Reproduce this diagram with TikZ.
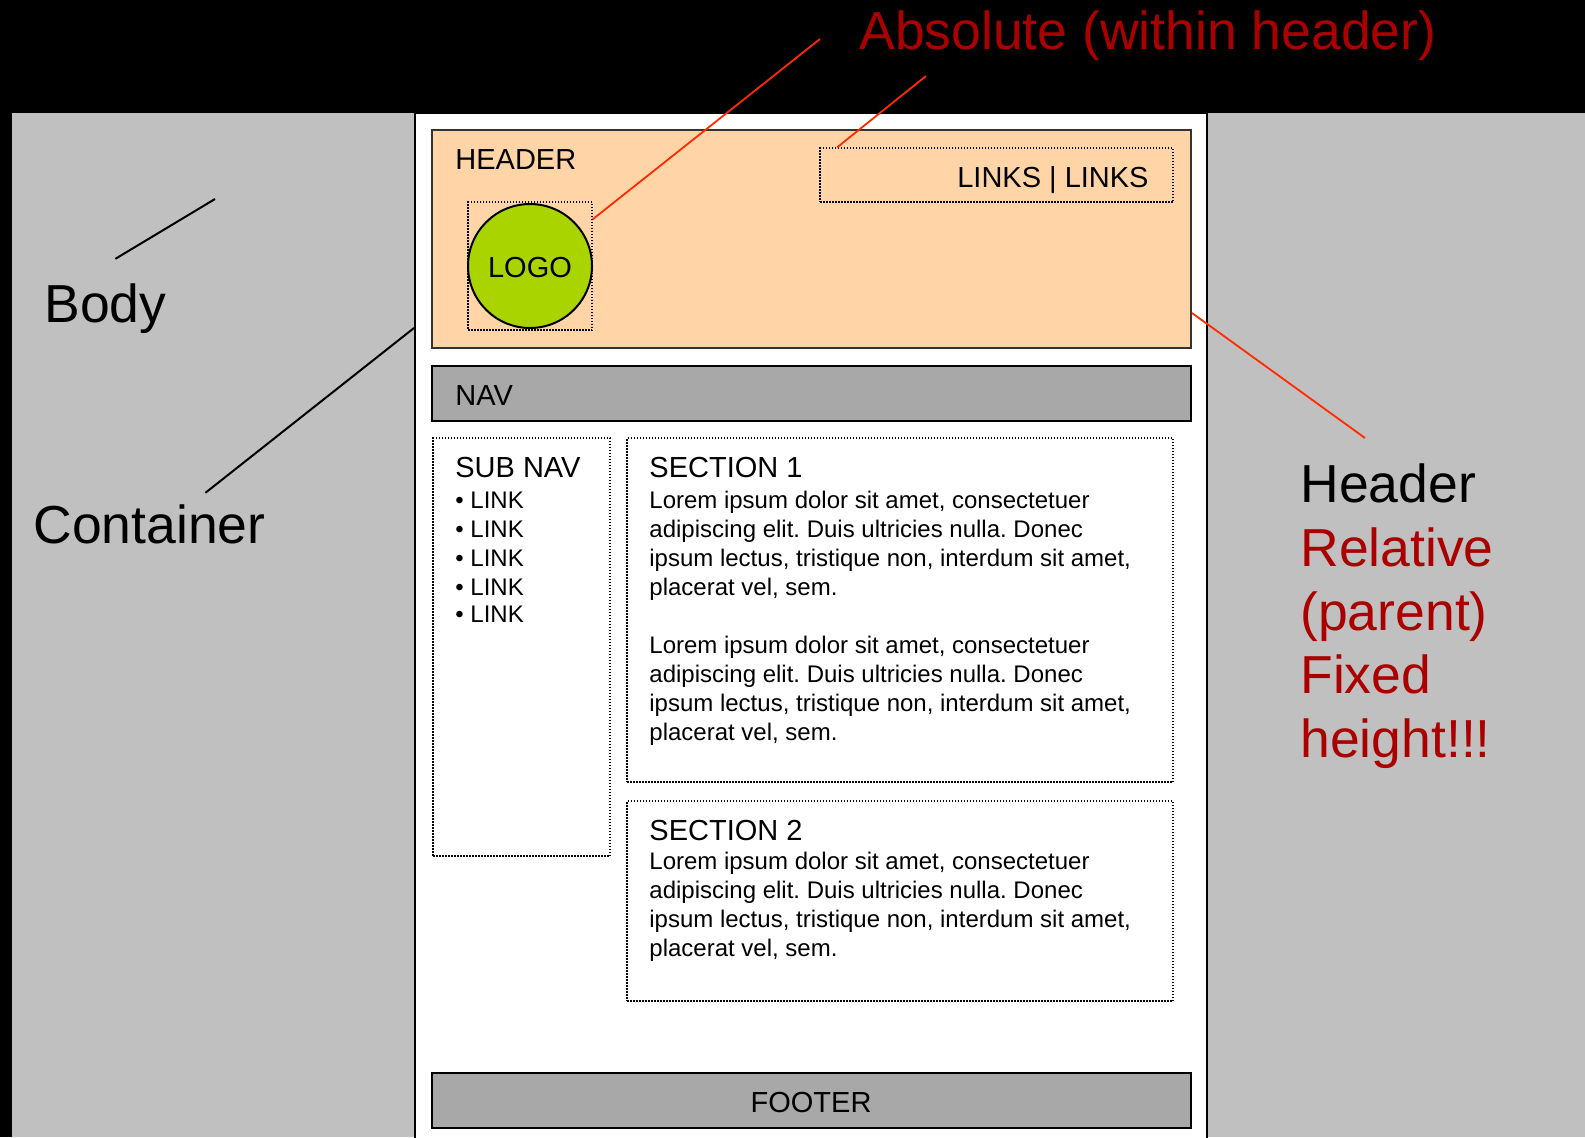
\documentclass[tikz,border=0pt]{standalone}
\usepackage{fontspec}
\setmainfont{Liberation Sans}
\usetikzlibrary{fit,calc}
\frenchspacing

\definecolor{bodygray}{RGB}{192,192,192}
\definecolor{navgray}{RGB}{168,168,168}
\definecolor{headerfill}{RGB}{255,213,167}
\definecolor{logogreen}{RGB}{170,212,0}
\definecolor{annotred}{RGB}{170,0,0}
\definecolor{linered}{RGB}{255,42,0}

\newcommand{\hdfont}{\fontsize{14.5pt}{17pt}\selectfont}
\newcommand{\smfont}{\fontsize{12pt}{14.5pt}\selectfont}
\newcommand{\lgfont}{\fontsize{26.75pt}{32pt}\selectfont}

\tikzset{
  area/.style={inner sep=0pt, line width=1pt},
  dotbox/.style={draw=black, line width=0.75pt, dash pattern=on 0.75pt off 0.75pt, inner sep=0pt},
  lbl/.style={inner sep=0pt, anchor=base west},
  redline/.style={draw=linered, line width=0.9pt},
  blackline/.style={draw=black, line width=1pt}
}

\begin{document}
\begin{tikzpicture}[x=0.5pt,y=-0.5pt]
  \useasboundingbox (0,0) rectangle (1585,1137);
  \fill[black] (0,0) rectangle (1585,1137);
  \fill[bodygray] (12,113) rectangle (1585,1137);

  % container
  \node[area, fill=white, draw=black, fit={(415,113) (1207,1150)}] (cont) {};

  % header
  \node[area, fill=headerfill, draw=black!80, fit={(432,130) (1191,348)}] (hdr) {};
  \node[lbl] (hdrtxt) at (455,169) {\hdfont HEADER};
  \node[dotbox, fit={(468,202) (592,330)}] (logo) {};
  \node[circle, draw=black, line width=1pt, fill=logogreen, minimum size=62pt, inner sep=0pt] (logocirc) at (logo.center) {};
  \node[inner sep=0pt, anchor=base] (logotxt) at (530,277) {\hdfont LOGO};
  \node[dotbox, fit={(820,148) (1173,202)}] (lnks) {};
  \node[inner sep=0pt, anchor=base east] (lnkstxt) at (1149,187) {\hdfont LINKS | LINKS};

  % nav
  \node[area, fill=navgray, draw=black, fit={(432,366) (1191,421)}] (nav) {};
  \node[lbl] (navtxt) at (455,405) {\hdfont NAV};

  % sub nav
  \node[dotbox, fit={(433,438) (610,856)}] (subnav) {};
  \node[lbl] (subnavtxt) at (455,477) {\hdfont SUB NAV};
  \foreach \y [count=\i] in {508,537,566,595,622}
    \node[lbl] (link\i) at (455,\y) {\smfont\textbullet\ LINK};

  % sections
  \node[dotbox, fit={(627,438) (1173,782)}] (sec1) {};
  \node[lbl] (sec1txt) at (649,477) {\hdfont SECTION 1};
  \node[dotbox, fit={(627,801) (1173,1001)}] (sec2) {};
  \node[lbl] (sec2txt) at (649,840) {\hdfont SECTION 2};
  \foreach \t [count=\i from 0] in {{Lorem ipsum dolor sit amet, consectetuer},{adipiscing elit. Duis ultricies nulla. Donec},{ipsum lectus, tristique non, interdum sit amet,},{placerat vel, sem.}} {
    \node[lbl] (pa\i) at (649,508+29*\i) {\smfont\t};
    \node[lbl] (pb\i) at (649,653+29*\i) {\smfont\t};
    \node[lbl] (pc\i) at (649,869+29*\i) {\smfont\t};
  }

  % footer
  \node[area, fill=navgray, draw=black, fit={(432,1073) (1191,1128)}] (foot) {};
  \node[inner sep=0pt, anchor=base] (foottxt) at (811,1112) {\hdfont FOOTER};

  % notes
  \node[lbl, text=annotred] (abslbl) at (859,49) {\lgfont Absolute (within header)};
  \coordinate (absa) at (820,39);
  \coordinate (absb) at (926,76);
  \draw[redline] ($(logo.north east)+(0,18)$) -- (absa);
  \draw[redline] ($(lnks.north west)+(18,0)$) -- (absb);

  \node[lbl] (hdlbl) at (1300,502) {\lgfont Header};
  \foreach \t/\y [count=\i] in {Relative/566, {(parent)}/630, Fixed/693, height!!!/757}
    \node[lbl, text=annotred] (hdnote\i) at (1300,\y) {\lgfont\t};
  \coordinate (hdrtip) at (1365,438);
  \draw[redline] ($(hdr.south east)+(0,-36)$) -- (hdrtip);

  \node[lbl] (bodylbl) at (44,322) {\lgfont Body};
  \coordinate (bodytip) at (215,199);
  \draw[blackline] ($(bodylbl.north)+(10,-24)$) -- (bodytip);

  \node[lbl] (contlbl) at (33,543) {\lgfont Container};
  \draw[blackline] ($(contlbl.north)+(56,-11)$) -- ($(cont.north west)+(0,216)$);
\end{tikzpicture}
\end{document}
